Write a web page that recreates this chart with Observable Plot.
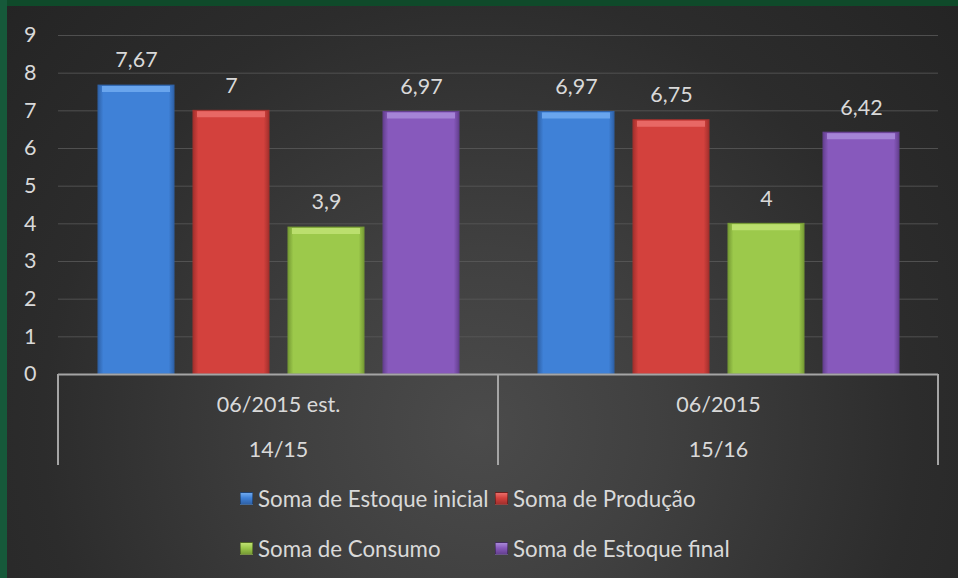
<!DOCTYPE html>
<html>
<head>
<meta charset="utf-8">
<script src="https://cdn.jsdelivr.net/npm/d3@7"></script>
<script src="https://cdn.jsdelivr.net/npm/@observablehq/plot@0.6"></script>
<style>
  body { margin: 0; background: #262626; }
  #wrap {
    position: relative; width: 958px; height: 578px; overflow: hidden;
    background: radial-gradient(circle farthest-corner at 50% 74%, #4b4b4b 0%, #404040 28%, #2c2c2c 68%, #242424 100%);
    font-family: Lato, "Open Sans", sans-serif; color: #d9d9d9;
  }
  #chart { position: absolute; left: 0; top: 0; }
  .bt { position: absolute; left: 0; top: 0; width: 958px; height: 6px; background: #0f4a2a; z-index: 2; }
  .bl { position: absolute; left: 0; top: 0; width: 7px; height: 578px; background: #16593a; z-index: 2; }
  #legend {
    position: absolute; left: 240px; top: 473px;
    display: grid; grid-template-columns: 255px auto; grid-auto-rows: 50px;
    align-items: center; font-size: 22.3px;
  }
  .item { display: flex; align-items: center; white-space: nowrap; }
  .sw { width: 11px; height: 11px; margin-right: 5px; border: 1px solid rgba(0,0,0,0.35); }
</style>
</head>
<body>
<div id="wrap">
  <div class="bt"></div><div class="bl"></div>
  <div id="chart"></div>
  <div id="legend"></div>
</div>
<script>
// ---- data ----
const groups = ["06/2015 est.", "06/2015"];
const seasons = ["14/15", "15/16"];
const series = ["Soma de Estoque inicial", "Soma de Produção", "Soma de Consumo", "Soma de Estoque final"];
const estoqueInicial = [7.67, 6.97];
const producao = [7, 6.75];
const consumo = [3.9, 4];
const estoqueFinal = [6.97, 6.42];
const yTicks = [0, 1, 2, 3, 4, 5, 6, 7, 8, 9];

const colors = ["#3f81d7", "#d3413d", "#9cc94b", "#8759bc"];
const darks  = ["#2f62a8", "#a3302d", "#779c35", "#654090"];
const lights = ["#6ea9ef", "#ea6d69", "#bfe172", "#a888d8"];

const valuesBySeries = [estoqueInicial, producao, consumo, estoqueFinal];
const rows = [];
series.forEach((s, si) => groups.forEach((g, gi) => rows.push({group: g, season: seasons[gi], series: s, si, value: valuesBySeries[si][gi]})));
const groupRows = groups.map((g, i) => ({group: g, season: seasons[i]}));
const fmt = v => String(v).replace(".", ",");

// gradient defs
function defsMark() {
  const defs = d3.create("svg:defs");
  colors.forEach((c, i) => {
    const lg = defs.append("linearGradient").attr("id", "g" + i).attr("x1", 0).attr("x2", 1).attr("y1", 0).attr("y2", 0);
    [[0, darks[i]], [0.07, c], [0.93, c], [1, darks[i]]].forEach(([o, col]) =>
      lg.append("stop").attr("offset", o).attr("stop-color", col));
  });
  return defs.node();
}

const barMarks = [];
series.forEach((s, si) => {
  const d = rows.filter(r => r.si === si);
  barMarks.push(Plot.barY(d, {fx: "group", x: "series", y: "value", fill: `url(#g${si})`, stroke: darks[si], strokeWidth: 1}));
  barMarks.push(Plot.tickY(d, {fx: "group", x: "series", y: "value", stroke: lights[si], strokeOpacity: 0.9, strokeWidth: 6, dy: 3.5, insetLeft: 4, insetRight: 4}));
});

const H = 475, MB = 101;
const FS = 21.5;
const plot = Plot.plot({
  width: 958, height: H,
  marginLeft: 58, marginRight: 20, marginTop: 35, marginBottom: MB,
  style: {background: "transparent", color: "#d9d9d9", fontFamily: "Lato, 'Open Sans', sans-serif", fontSize: FS + "px", overflow: "visible"},
  fx: {domain: groups, padding: 0, axis: null},
  x: {domain: series, paddingInner: 0.2, paddingOuter: 0.4, axis: null},
  y: {domain: [0, 9], axis: null},
  marks: [
    defsMark,
    Plot.gridY(yTicks.slice(1), {stroke: "#5a5a5a", strokeOpacity: 0.8, strokeWidth: 1}),
    Plot.axisY(yTicks, {tickSize: 0, tickPadding: 22, fontSize: FS, fill: "#d9d9d9", tickFormat: d => d, label: null}),
    ...barMarks,
    Plot.ruleY([0], {stroke: "#a5a5a5", strokeWidth: 2}),
    Plot.text(rows, {fx: "group", x: "series", y: "value", text: d => fmt(d.value), dy: -25, lineAnchor: "middle", fill: "#d9d9d9", fontSize: FS}),
    Plot.text(groupRows, {fx: "group", text: "group", frameAnchor: "bottom", dy: 31, lineAnchor: "middle", fill: "#d9d9d9", fontSize: FS}),
    Plot.text(groupRows, {fx: "group", text: "season", frameAnchor: "bottom", dy: 76, lineAnchor: "middle", fill: "#d9d9d9", fontSize: FS})
  ]
});

// category separators (computed from the plot's own scales)
const fxs = plot.scale("fx"), ys = plot.scale("y");
const y0 = ys.apply(0), yB = H - 10;
const xs = [fxs.apply(groups[0]), fxs.apply(groups[1]), fxs.apply(groups[1]) + fxs.bandwidth];
d3.select(plot).append("g").selectAll("line").data(xs).join("line")
  .attr("x1", d => d).attr("x2", d => d).attr("y1", y0).attr("y2", yB)
  .attr("stroke", "#a5a5a5").attr("stroke-width", 2);

document.getElementById("chart").appendChild(plot);

// legend
const lg = d3.select("#legend");
series.forEach((s, i) => {
  const it = lg.append("div").attr("class", "item");
  it.append("span").attr("class", "sw")
    .style("background", `linear-gradient(180deg, ${lights[i]} 0%, ${colors[i]} 45%, ${darks[i]} 100%)`);
  it.append("span").text(s);
});
</script>
</body>
</html>
